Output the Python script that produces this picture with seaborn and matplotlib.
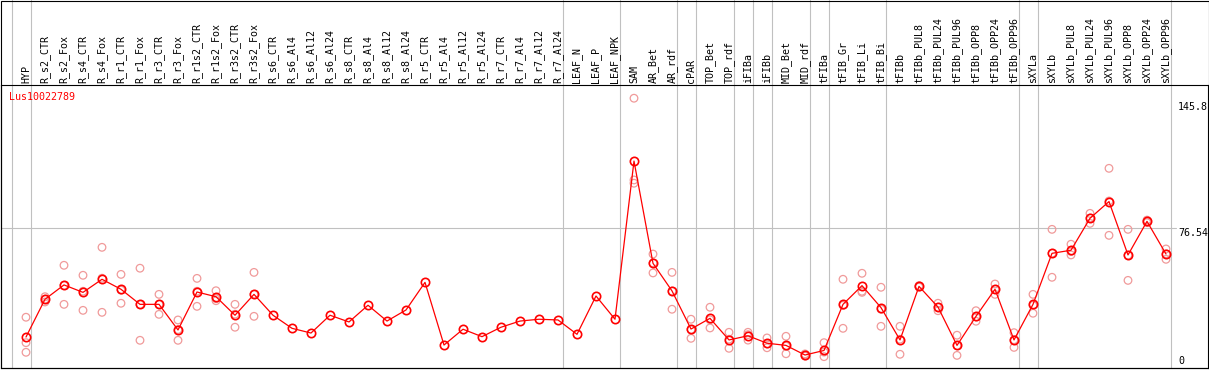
import numpy as np
import pandas as pd
import matplotlib
matplotlib.use("Agg")
import matplotlib.pyplot as plt
import matplotlib.transforms as mtransforms
from matplotlib.patches import Rectangle
import seaborn as sns

# ---------------- data ----------------
gene_name = "Lus10022789"

groups = [
    ["HYP"],
    ["R_s2_CTR", "R_s2_Fox", "R_s4_CTR", "R_s4_Fox", "R_r1_CTR", "R_r1_Fox",
     "R_r3_CTR", "R_r3_Fox", "R_r1s2_CTR", "R_r1s2_Fox", "R_r3s2_CTR", "R_r3s2_Fox",
     "R_s6_CTR", "R_s6_Al4", "R_s6_Al12", "R_s6_Al24", "R_s8_CTR", "R_s8_Al4",
     "R_s8_Al12", "R_s8_Al24", "R_r5_CTR", "R_r5_Al4", "R_r5_Al12", "R_r5_Al24",
     "R_r7_CTR", "R_r7_Al4", "R_r7_Al12", "R_r7_Al24"],
    ["LEAF_N", "LEAF_P", "LEAF_NPK"],
    ["SAM", "AR_Bet", "AR_rdf"],
    ["cPAR"],
    ["TOP_Bet", "TOP_rdf"],
    ["iFIBa"],
    ["iFIBb"],
    ["MID_Bet", "MID_rdf"],
    ["tFIBa"],
    ["tFIB_Gr", "tFIB_Li", "tFIB_Bi"],
    ["tFIBb", "tFIBb_PUL8", "tFIBb_PUL24", "tFIBb_PUL96", "tFIBb_OPP8",
     "tFIBb_OPP24", "tFIBb_OPP96"],
    ["sXYLa"],
    ["sXYLb", "sXYLb_PUL8", "sXYLb_PUL24", "sXYLb_PUL96", "sXYLb_OPP8",
     "sXYLb_OPP24", "sXYLb_OPP96"],
]
categories = [c for g in groups for c in g]

means = [
    16.5,
    37.3, 45.2, 41.1, 48.3, 42.8, 34.5, 34.5, 20.4, 41.3, 38.7, 28.5, 40.0,
    28.5, 21.3, 18.7, 28.5, 24.8, 34.0, 25.3, 31.4, 46.6, 12.1, 20.8, 16.7,
    21.9, 25.3, 26.3, 25.9,
    18.0, 39.1, 26.3,
    113.4, 57.1, 41.9,
    20.9,
    26.8, 14.9,
    17.2,
    13.1,
    11.9, 6.6,
    9.1,
    34.5, 44.8, 32.7,
    14.9, 44.4, 33.0, 11.9, 27.9, 42.8, 14.9,
    34.5,
    62.6, 64.3, 81.9, 91.1, 61.7, 80.2, 62.2,
]

nan = np.nan
rep1 = [
    27.4,
    38.7, 56.0, 50.5, 65.9, 51.0, 54.4, 40.0, 25.9, 48.8, 42.0, 34.5, 52.1,
    nan, nan, nan, nan, nan, nan, nan, nan, nan, nan, nan, nan,
    nan, nan, nan, nan,
    nan, nan, nan,
    148.0, 62.2, 52.1,
    26.3,
    32.9, 19.1,
    19.1,
    16.0,
    16.9, 7.2,
    13.4,
    48.3, 51.6, 43.9,
    22.4, 44.8, 35.1, 17.5, 31.0, 45.7, 18.9,
    40.0,
    75.8, 67.6, 84.6, 109.4, 75.8, 80.9, 65.0,
]
rep2 = [
    13.4,
    35.8, 34.5, 31.2, 30.1, 35.1, 14.7, 29.0, 14.7, 33.4, 36.5, 21.9, 27.9,
    nan, nan, nan, nan, nan, nan, nan, nan, nan, nan, nan, nan,
    nan, nan, nan, nan,
    nan, nan, nan,
    103.0, 51.8, 31.8,
    15.8,
    21.5, 10.3,
    17.8,
    10.6,
    7.3, 6.0,
    5.7,
    21.3, 41.1, 22.4,
    7.0, 44.0, 31.0, 6.4, 25.2, 40.0, 10.8,
    29.6,
    49.4, 61.7, 79.1, 72.5, 47.7, 79.5, 59.3,
]
rep3 = [
    8.1,
    37.3, 44.9, 41.7, 48.9, 42.3, 34.4, 34.5, 20.6, 41.7, 37.6, 29.1, 40.0,
    nan, nan, nan, nan, nan, nan, nan, nan, nan, nan, nan, nan,
    nan, nan, nan, nan,
    nan, nan, nan,
    101.2, 57.3, 41.8,
    20.6,
    26.0, 15.3,
    14.8,
    12.7,
    11.5, 6.6,
    8.2,
    33.9, 41.7, 31.8,
    15.3, 44.4, 32.9, 11.8, 27.5, 42.7, 15.0,
    33.9,
    62.6, 63.6, 82.0, 91.4, 61.6, 80.2, 62.3,
]
ytick_values = [0, 76.54, 145.8]
ytick_labels = ["0", "76.54", "145.8"]

# ---------------- frames ----------------
idx = np.arange(len(categories))
df_mean = pd.DataFrame({"pos": idx, "value": means, "sample": categories})
df_rep = pd.DataFrame({
    "pos": np.concatenate([idx, idx, idx]),
    "value": np.concatenate([rep1, rep2, rep3]),
}).dropna()

# ---------------- styling ----------------
W, H = 1209, 370
sns.set_theme(style="white")
plt.rcParams["font.family"] = ["DejaVu Sans Mono", "DejaVu Sans"]
FS = 7.2
GRID = "#c0c0c0"
RED = "#ff0000"
PINK = "#f09a9a"

fig = plt.figure(figsize=(W / 100, H / 100), dpi=100)
fig.patch.set_facecolor("white")

ax_left, ax_right, ax_top, ax_bottom = 1, 1208, 85, 368
ax = fig.add_axes([ax_left / W, (H - ax_bottom) / H,
                   (ax_right - ax_left) / W, (ax_bottom - ax_top) / H])
ax.set_facecolor("white")

# pixel mapping: column i at x = 26 + 19*i
x0, dx = 26.0, 19.0
ax.set_xlim((ax_left - x0) / dx, (ax_right - x0) / dx)
y_zero, sy = 367.0, 1.816
ax.set_ylim(-(ax_bottom - y_zero) / sy, (y_zero - ax_top) / sy)

# separators between groups
ends = np.cumsum([len(g) for g in groups]) - 1
sep_positions = [-1] + list(ends)
ymax_fig = (ax_bottom - 0) / (ax_bottom - ax_top)
for e in sep_positions:
    ax.axvline(e + 4.7 / dx, ymin=0, ymax=ymax_fig, color=GRID, lw=0.8,
               clip_on=False, zorder=0.5)

# horizontal reference line
ax.axhline(ytick_values[1], xmin=0, xmax=(1176 - ax_left) / (ax_right - ax_left),
           color=GRID, lw=0.8, zorder=0.5)

# replicates
sns.scatterplot(data=df_rep, x="pos", y="value", ax=ax, marker="o",
                s=30, facecolor="none", edgecolor=PINK, linewidth=0.9,
                zorder=2, legend=False)
# means
sns.lineplot(data=df_mean, x="pos", y="value", ax=ax, color=RED, lw=0.9,
             marker="o", markersize=6, markerfacecolor="none",
             markeredgecolor=RED, markeredgewidth=1.2, zorder=3,
             legend=False)

ax.set_xticks([])
ax.set_yticks([])
ax.set_xlabel("")
ax.set_ylabel("")
for sp in ax.spines.values():
    sp.set_color("black")
    sp.set_linewidth(0.8)
    sp.set_visible(True)

# column labels (rotated) above the axes
lab_tr = mtransforms.blended_transform_factory(ax.transData, ax.transAxes)
lab_tr = lab_tr + mtransforms.ScaledTranslation(0, 2 / 100, fig.dpi_scale_trans)
for i, c in enumerate(categories):
    ax.text(i, 1.0, c, transform=lab_tr, rotation=90, ha="center",
            va="bottom", fontsize=FS, color="black", clip_on=False)

# right-side value labels
tx = (1178 - ax_left) / (ax_right - ax_left)
ytr = mtransforms.blended_transform_factory(ax.transAxes, ax.transData)
for v, t in zip(ytick_values, ytick_labels):
    va = "bottom" if v == 0 else "top"
    yy = v + (1.5 / sy if v == 0 else 0)
    ax.text(tx, yy, t, transform=ytr, ha="left", va=va, fontsize=FS,
            color="black")

# gene name
fig.text(9 / W, 1 - 92 / H, gene_name, color=RED, fontsize=FS,
         ha="left", va="top")

# outer frame
fig.patches.append(Rectangle((0.5 / W, (H - ax_bottom) / H),
                             (ax_right + 0.5 - 0.5) / W,
                             (ax_bottom - 0.5) / H,
                             transform=fig.transFigure, fill=False,
                             edgecolor="black", lw=0.8, zorder=10))

fig.savefig("out.png", dpi=100, facecolor="white")
